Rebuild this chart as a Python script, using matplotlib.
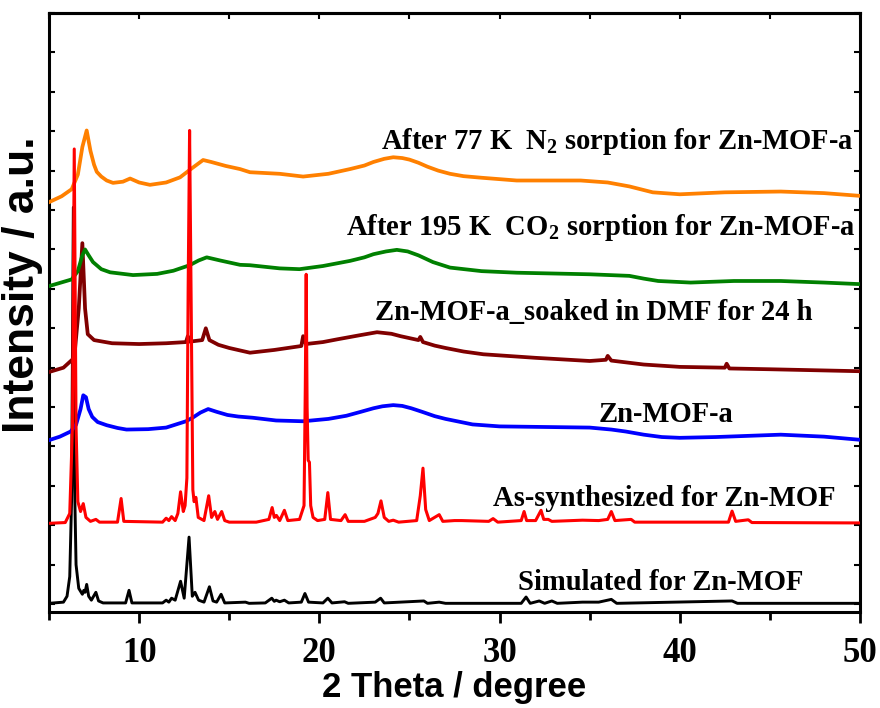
import matplotlib
matplotlib.use("Agg")
import matplotlib.pyplot as plt
from matplotlib.ticker import MultipleLocator

# ---- data (2 theta in degree, stacked intensity) ----
sim_x = [5.0, 5.8, 6.0, 6.15, 6.25, 6.35, 6.42, 6.5, 6.65, 6.85, 6.93, 7.0, 7.09, 7.2, 7.35,
         7.6, 7.75, 8.0, 9.25, 9.44, 9.6, 11.3, 11.5, 11.65, 11.8, 12.0, 12.3, 12.5, 12.77,
         12.95, 13.1, 13.3, 13.6, 13.9, 14.1, 14.3, 14.55, 14.75, 15.9, 16.1, 17.0, 17.36,
         17.5, 17.6, 17.8, 18.06, 18.3, 19.0, 19.2, 19.4, 20.2, 20.47, 20.7, 21.4, 21.6,
         23.1, 23.4, 23.6, 25.8, 26.0, 26.65, 27.0, 31.2, 31.47, 31.7, 32.2, 32.5, 32.9,
         33.2, 34.6, 35.5, 36.2, 36.5, 42.9, 43.2, 50.0]
sim_y = [0.02, 0.05, 0.2, 0.7, 2.6, 10.07, 3.0, 1.0, 0.4, 0.25, 0.35, 0.3, 0.5, 0.2, 0.1,
         0.3, 0.08, 0.03, 0.03, 0.35, 0.03, 0.03, 0.1, 0.05, 0.15, 0.1, 0.58, 0.15, 1.7,
         0.2, 0.3, 0.1, 0.05, 0.44, 0.08, 0.05, 0.25, 0.03, 0.05, 0.02, 0.03, 0.15,
         0.07, 0.1, 0.06, 0.1, 0.03, 0.05, 0.27, 0.05, 0.03, 0.15, 0.03, 0.06, 0.02,
         0.05, 0.15, 0.03, 0.08, 0.02, 0.05, 0.02, 0.02, 0.18, 0.02, 0.08, 0.02, 0.08,
         0.02, 0.05, 0.05, 0.12, 0.02, 0.08, 0.02, 0.02]

syn_x = [5.0, 5.9, 6.15, 6.3, 6.4, 6.5, 6.6, 6.75, 6.9, 7.05, 7.3, 7.6, 7.8, 8.8, 9.0, 9.15,
         11.3, 11.5, 11.65, 11.8, 12.0, 12.15, 12.3, 12.45, 12.55, 12.65, 12.72, 12.8, 12.88,
         12.98, 13.05, 13.15, 13.28, 13.6, 13.86, 14.02, 14.2, 14.35, 14.58, 14.75, 15.0,
         16.5, 17.2, 17.38, 17.5, 17.62, 17.8, 18.06, 18.25, 18.9, 19.15, 19.22, 19.27,
         19.32, 19.38, 19.45, 19.52, 19.65, 19.9, 20.3, 20.47, 20.62, 21.2, 21.43, 21.6,
         22.5, 23.1, 23.25, 23.42, 23.6, 23.85, 24.1, 24.4, 25.4, 25.6, 25.75, 25.9, 26.1,
         26.65, 26.85, 27.5, 27.9, 29.4, 29.64, 29.9, 31.2, 31.36, 31.5, 32.0, 32.3, 32.45,
         32.7, 32.9, 34.6, 35.5, 36.0, 36.2, 36.4, 37.3, 37.5, 42.7, 42.9, 43.1, 43.8, 44.0,
         50.0]
syn_y = [2.05, 2.07, 2.3, 4.5, 11.55, 4.5, 2.6, 2.35, 2.55, 2.2, 2.1, 2.15, 2.08, 2.08, 2.68, 2.1,
         2.08, 2.18, 2.12, 2.22, 2.12, 2.3, 2.85, 2.35, 2.5, 3.2, 8.0, 12.02, 8.0,
         2.9, 2.6, 2.71, 2.2, 2.12, 2.75, 2.2, 2.35, 2.15, 2.35, 2.12, 2.08,
         2.08, 2.15, 2.45, 2.2, 2.25, 2.12, 2.38, 2.12, 2.15, 2.5, 5.5, 8.37,
         5.0, 3.65, 3.6, 2.5, 2.2, 2.12, 2.15, 2.83, 2.15, 2.12, 2.27, 2.1,
         2.1, 2.2, 2.3, 2.62, 2.2, 2.1, 2.13, 2.08, 2.12, 2.75, 3.45, 2.4, 2.12,
         2.27, 2.1, 2.12, 2.12, 2.1, 2.17, 2.08, 2.12, 2.35, 2.12, 2.12, 2.38, 2.15,
         2.15, 2.1, 2.13, 2.12, 2.15, 2.35, 2.12, 2.15, 2.08, 2.08, 2.36, 2.1, 2.14, 2.07,
         2.06]

act_x = [5.0, 5.6, 6.2, 6.5, 6.75, 6.9, 7.05, 7.2, 7.4, 7.7, 8.2, 8.8, 9.3, 10.5, 11.5, 12.6,
         13.0, 13.4, 13.83, 14.3, 14.9, 15.5, 16.3, 17.6, 19.1, 20.5, 21.5, 22.3, 23.0, 23.5,
         24.1, 24.6, 25.1, 25.7, 26.4, 27.0, 28.5, 30.0, 35.0, 36.2, 37.0, 38.0, 39.0, 40.0,
         42.0, 45.6, 48.0, 50.0]
act_y = [4.16, 4.25, 4.38, 4.55, 4.95, 5.3, 5.25, 4.95, 4.75, 4.62, 4.54, 4.47, 4.43, 4.44, 4.48,
         4.64, 4.74, 4.86, 4.95, 4.88, 4.8, 4.76, 4.73, 4.66, 4.64, 4.7, 4.78, 4.88, 4.97, 5.02,
         5.05, 5.03, 4.97, 4.88, 4.77, 4.7, 4.56, 4.51, 4.48, 4.43, 4.38, 4.3, 4.24, 4.22,
         4.24, 4.3, 4.25, 4.17]

dmf_x = [5.0, 5.8, 6.4, 6.65, 6.85, 7.0, 7.15, 7.5, 8.5, 10.0, 11.5, 12.6, 12.7, 12.8, 13.5,
         13.7, 13.9, 14.4, 15.0, 16.15, 17.5, 19.0, 19.1, 19.25, 20.2, 21.0, 22.2, 23.2, 24.0,
         24.5, 25.5, 25.6, 25.75, 26.4, 27.0, 28.0, 29.1, 32.0, 35.0, 35.9, 36.0, 36.2, 38.0,
         40.0, 42.5, 42.6, 42.75, 45.0, 50.0]
dmf_y = [5.89, 6.0, 6.25, 7.5, 9.16, 7.5, 6.85, 6.7, 6.62, 6.6, 6.62, 6.65, 6.8, 6.66, 6.7,
         7.0, 6.7, 6.58, 6.5, 6.38, 6.45, 6.55, 6.8, 6.6, 6.65, 6.72, 6.82, 6.9, 6.86,
         6.8, 6.7, 6.78, 6.65, 6.56, 6.5, 6.41, 6.34, 6.25, 6.17, 6.2, 6.3, 6.18, 6.08,
         6.02, 6.0, 6.1, 5.98, 5.96, 5.91]

co2_x = [5.0, 6.26, 6.6, 6.85, 7.0, 7.2, 7.44, 7.9, 8.39, 9.66, 11.0, 11.9, 12.8, 13.3, 13.75,
         14.5, 15.6, 16.15, 17.8, 18.9, 20.2, 21.7, 22.5, 23.0, 23.7, 24.3, 24.9, 25.5, 26.3,
         27.25, 29.0, 30.95, 35.0, 37.2, 38.0, 38.8, 40.6, 43.0, 45.6, 48.0, 50.0]
co2_y = [8.07, 8.24, 8.45, 8.85, 9.0, 8.85, 8.68, 8.5, 8.42, 8.35, 8.38, 8.46, 8.6, 8.72, 8.8,
         8.72, 8.61, 8.6, 8.52, 8.5, 8.58, 8.71, 8.8, 8.88, 8.95, 8.99, 8.95, 8.85, 8.68,
         8.54, 8.45, 8.41, 8.37, 8.33, 8.26, 8.2, 8.16, 8.2, 8.2, 8.16, 8.12]

n2_x = [5.0, 5.7, 6.26, 6.6, 6.85, 7.09, 7.3, 7.5, 7.65, 7.9, 8.2, 8.55, 9.1, 9.5, 10.0, 10.6,
        11.5, 12.27, 12.9, 13.55, 14.0, 14.8, 15.6, 16.15, 17.8, 19.1, 20.5, 21.7, 22.5, 23.0,
        23.6, 24.1, 24.6, 25.0, 25.5, 26.0, 26.6, 27.25, 28.0, 29.0, 30.95, 34.5, 36.0, 37.2,
        38.5, 40.0, 42.5, 45.6, 48.0, 50.0]
n2_y = [10.2, 10.35, 10.53, 10.9, 11.6, 12.02, 11.5, 11.15, 10.97, 10.85, 10.75, 10.69, 10.72,
        10.8, 10.7, 10.64, 10.7, 10.83, 11.05, 11.27, 11.22, 11.12, 11.04, 10.96, 10.92,
        10.85, 10.92, 11.04, 11.13, 11.22, 11.3, 11.34, 11.32, 11.28, 11.2, 11.1, 11.0,
        10.92, 10.86, 10.82, 10.75, 10.75, 10.7, 10.6, 10.45, 10.4, 10.45, 10.47, 10.43, 10.36]

labels = ["After 77 K  N$\\mathregular{_2}$ sorption for Zn-MOF-a",
          "After 195 K  CO$\\mathregular{_2}$ sorption for Zn-MOF-a",
          "Zn-MOF-a_soaked in DMF for 24 h",
          "Zn-MOF-a",
          "As-synthesized for Zn-MOF",
          "Simulated for Zn-MOF"]
label_x = [23.42, 21.48, 23.09, 35.47, 29.64, 31.03]
label_y = [11.55, 9.37, 7.2, 4.61, 2.48, 0.36]

serif = "Liberation Serif"
sans = "Liberation Sans"

fig = plt.figure(figsize=(8.8, 7.08), dpi=100)
ax = fig.add_axes([0.0557, 0.1356, 0.9216, 0.846])

ax.plot(sim_x, sim_y, color="black", lw=2.1, zorder=2)
ax.plot(act_x, act_y, color="#0000ff", lw=2.7, zorder=3)
ax.plot(dmf_x, dmf_y, color="#800000", lw=2.7, zorder=3)
ax.plot(co2_x, co2_y, color="#008000", lw=2.7, zorder=3)
ax.plot(n2_x, n2_y, color="#ff8000", lw=2.7, zorder=3)
ax.plot(syn_x, syn_y, color="#ff0000", lw=2.2, zorder=4)

for t, x, y in zip(labels, label_x, label_y):
    ax.text(x, y, t, fontsize=20.6, fontweight="bold", family=serif,
            ha="left", va="baseline")

ax.set_xlim(5, 50)
ax.set_ylim(-0.2, 15.0)
ax.xaxis.set_major_locator(MultipleLocator(10))
ax.xaxis.set_minor_locator(MultipleLocator(5))
ax.yaxis.set_major_locator(MultipleLocator(1))
ax.set_yticklabels([])

ax.tick_params(axis="x", which="major", direction="out", length=8, width=2,
               top=False, labelsize=25, pad=10)
ax.tick_params(axis="x", which="minor", direction="out", length=6, width=2, top=False)
ax.tick_params(axis="y", which="both", direction="in", length=4, width=1.5,
               left=True, right=True, labelleft=False)
for lab in ax.get_xticklabels():
    lab.set_fontfamily(serif)
    lab.set_fontweight("bold")

# inward ticks on the top edge
top = ax.secondary_xaxis("top")
top.xaxis.set_major_locator(MultipleLocator(5))
top.tick_params(direction="in", length=4, width=1.5, labeltop=False)
top.spines["top"].set_linewidth(2.2)

for s in ax.spines.values():
    s.set_linewidth(2.2)

ax.set_xlabel("2 Theta / degree", fontsize=25, fontweight="bold", family=sans, labelpad=1)
ax.set_ylabel("Intensity / a.u.", fontsize=32, fontweight="bold", family=sans)
ax.yaxis.set_label_coords(-0.008, 0.546)

plt.grid(False)
fig.savefig("out.png", dpi=100)
